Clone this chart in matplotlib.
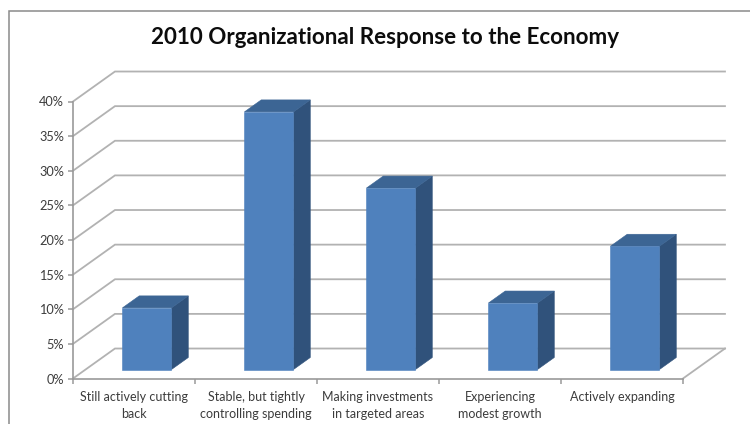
import matplotlib
matplotlib.use("Agg")
import matplotlib.pyplot as plt
from matplotlib.patches import Polygon, Rectangle
from matplotlib.ticker import PercentFormatter

title = "2010 Organizational Response to the Economy"
categories = [
    "Still actively cutting\nback",
    "Stable, but tightly\ncontrolling spending",
    "Making investments\nin targeted areas",
    "Experiencing\nmodest growth",
    "Actively expanding",
]
values = [8.9, 37.2, 26.2, 9.6, 17.8]
y_ticks = [0, 5, 10, 15, 20, 25, 30, 35, 40]

GRID = "#b2b2b2"
AXIS = "#9a9a9a"
TEXT = "#3c3c3c"
FRONT = "#4f81bd"
TOP = "#3c6594"
SIDE = "#30527b"

# Oblique projection of the chart box, in axis units
DEPTH_X = 0.344
DEPTH_Y = 4.33
BAR_WIDTH = 0.402
BAR_NEAR = 0.30   # fraction of the box depth in front of a bar
BAR_DEPTH = 0.40  # fraction of the box depth taken up by a bar

plt.rcParams["font.family"] = ["Lato", "DejaVu Sans"]

fig = plt.figure(figsize=(7.5, 4.24), dpi=100)
ax = fig.add_axes([73 / 750, (424 - 378.5) / 424, 610 / 750, 277 / 424])
ax.set_xlim(0, len(categories))
ax.set_ylim(0, 40)
ax.patch.set_visible(False)

# Outer chart frame, running off the right and bottom of the canvas
fig.add_artist(Rectangle((8.5 / 750, -0.05), 1.2, 1.05 - 10.5 / 424,
                         transform=fig.transFigure, fill=False,
                         edgecolor="#8a8a8a", linewidth=1.1))

# Back wall gridlines and their returns along the side wall
for level in y_ticks:
    ax.plot([0, DEPTH_X, len(categories) + DEPTH_X],
            [level, level + DEPTH_Y, level + DEPTH_Y],
            color=GRID, linewidth=1.3, clip_on=False, zorder=1,
            solid_joinstyle="miter")
# Right edge of the floor
ax.plot([len(categories), len(categories) + DEPTH_X], [0, DEPTH_Y],
        color=GRID, linewidth=1.3, clip_on=False, zorder=1)


def face(points, colour, layer):
    # Edge stroke in the face colour closes the antialiasing seams between faces
    ax.add_patch(Polygon(points, closed=True, facecolor=colour, edgecolor=colour,
                         linewidth=0.4, clip_on=False, zorder=layer))


# Each bar is three faces: side, top, front
dx = BAR_DEPTH * DEPTH_X
dy = BAR_DEPTH * DEPTH_Y
for i, value in enumerate(values):
    x0 = i + 0.5 - BAR_WIDTH / 2 + BAR_NEAR * DEPTH_X + 0.003
    x1 = x0 + BAR_WIDTH
    y0 = BAR_NEAR * DEPTH_Y
    y1 = y0 + value
    face([(x1, y0), (x1 + dx, y0 + dy), (x1 + dx, y1 + dy), (x1, y1)], SIDE, 3)
    face([(x0, y1), (x0 + dx, y1 + dy), (x1 + dx, y1 + dy), (x1, y1)], TOP, 3)
    face([(x0, y0), (x1, y0), (x1, y1), (x0, y1)], FRONT, 4)

for name in ("top", "right"):
    ax.spines[name].set_visible(False)
for name in ("left", "bottom"):
    ax.spines[name].set_color(AXIS)
    ax.spines[name].set_linewidth(1.2)

ax.set_yticks(y_ticks)
ax.yaxis.set_major_formatter(PercentFormatter(decimals=0))
ax.tick_params(axis="y", length=3.5, width=1.1, color=AXIS, labelcolor=TEXT,
               labelsize=9.2, pad=3)

# Ticks sit on category boundaries, labels on category centres
ax.set_xticks(range(len(categories) + 1))
ax.set_xticklabels([])
ax.set_xticks([i + 0.5 for i in range(len(categories))], minor=True)
ax.set_xticklabels(categories, minor=True)
ax.tick_params(axis="x", which="major", length=3.5, width=1.1, color=AXIS)
ax.tick_params(axis="x", which="minor", length=0, labelcolor=TEXT, labelsize=9.0, pad=9)
for label in ax.get_xticklabels(minor=True):
    label.set_linespacing(1.45)

fig.text(385 / 750, 1 - 38 / 424, title, ha="center", va="center",
         fontsize=16.1, fontweight="bold", color="#0c0c0c")

fig.savefig("out.png", dpi=100)
